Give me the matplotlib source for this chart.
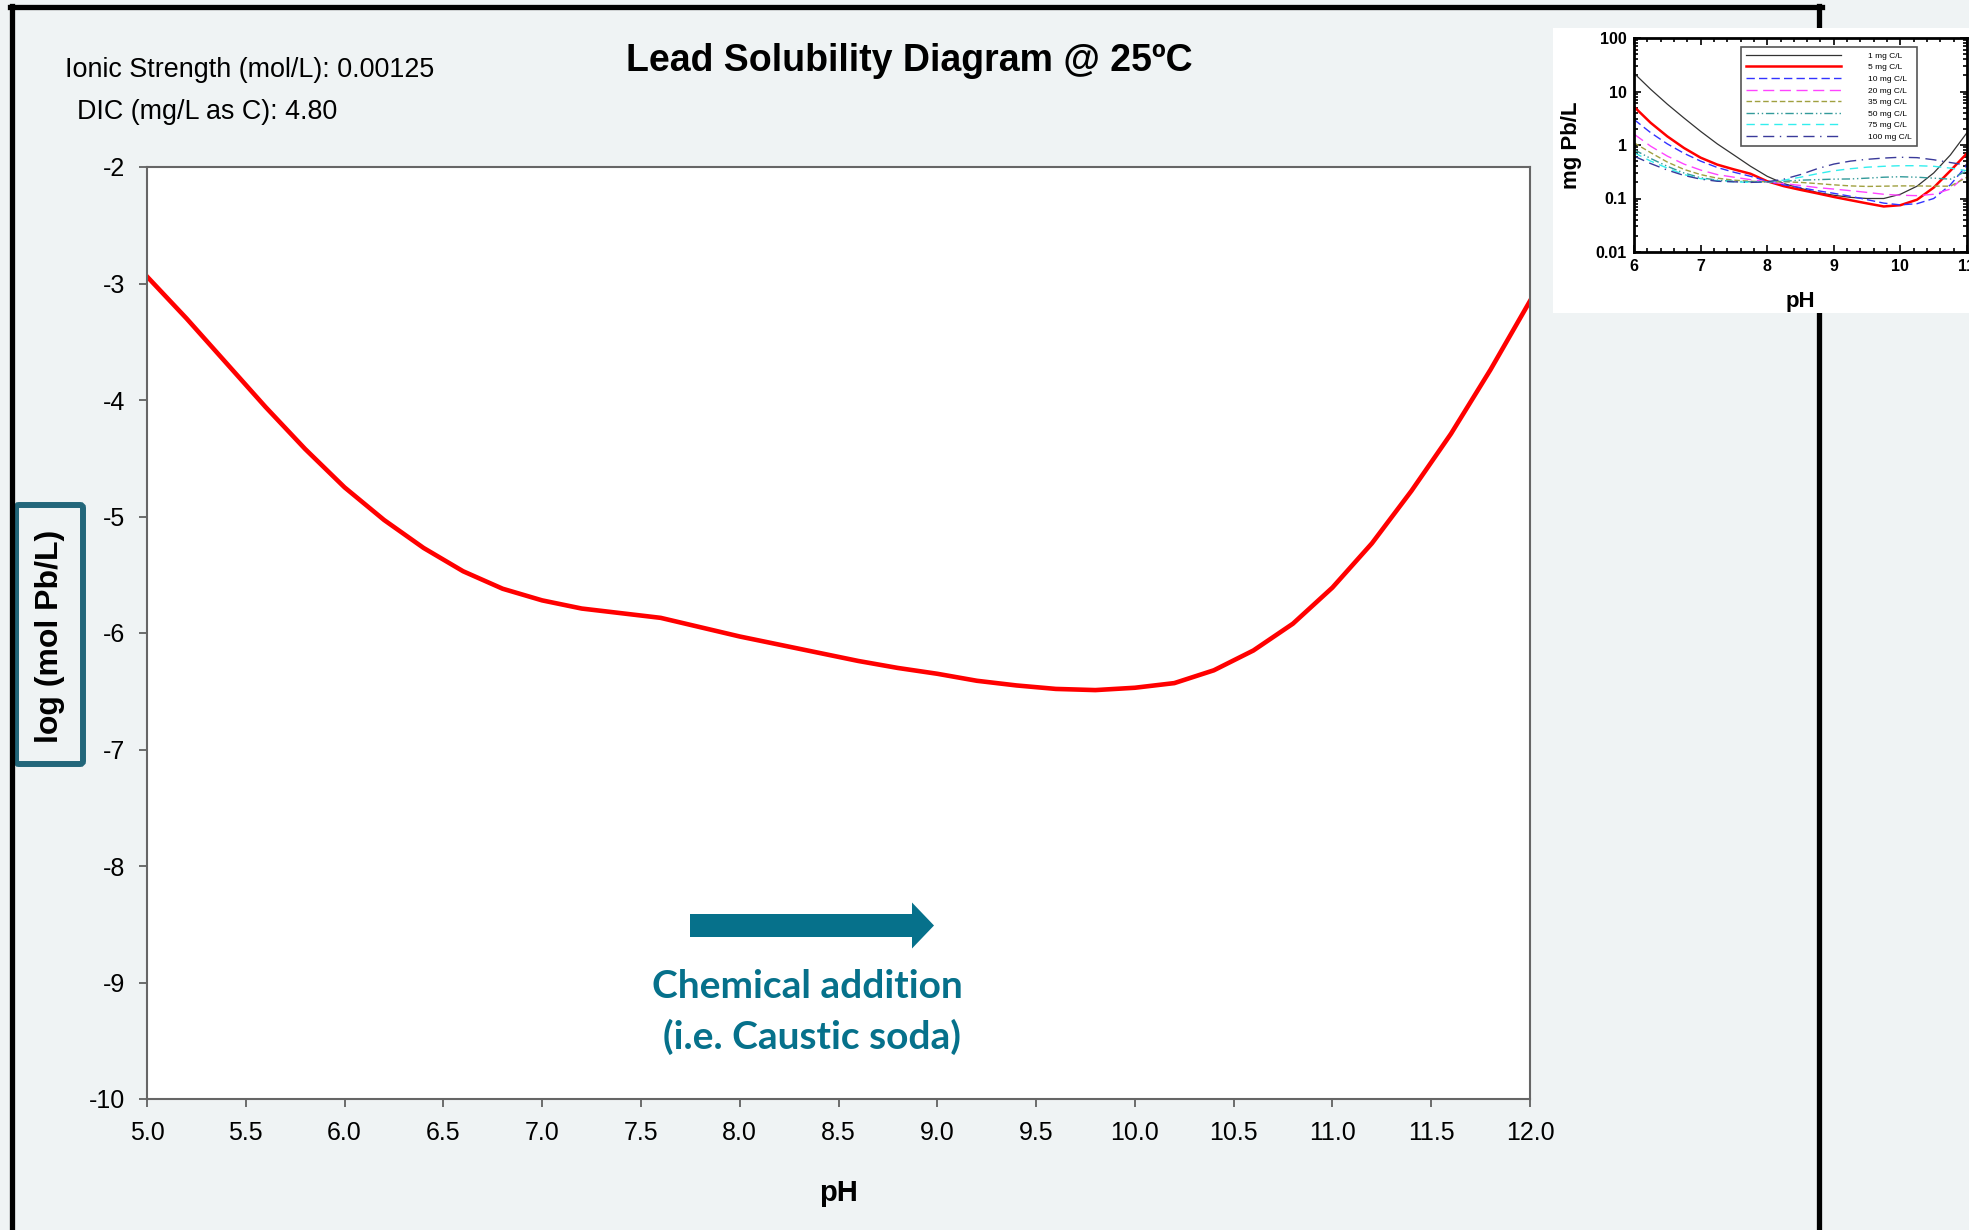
import matplotlib
matplotlib.use("Agg")
import matplotlib.pyplot as plt
import matplotlib.patches as mpatches
from matplotlib.lines import Line2D
from matplotlib.transforms import IdentityTransform
from matplotlib.ticker import FixedLocator, MultipleLocator, NullFormatter

plt.rcParams['font.family'] = ['Liberation Sans', 'DejaVu Sans']
plt.rcParams['axes.unicode_minus'] = False

# main curve: log(mol Pb/L) vs pH, DIC 4.80 mg C/L
ph = [5.0, 5.2, 5.4, 5.6, 5.8, 6.0, 6.2, 6.4, 6.6, 6.8, 7.0, 7.2, 7.4, 7.6,
      7.8, 8.0, 8.2, 8.4, 8.6, 8.8, 9.0, 9.2, 9.4, 9.6, 9.8, 10.0, 10.2,
      10.4, 10.6, 10.8, 11.0, 11.2, 11.4, 11.6, 11.8, 12.0]
log_pb = [-2.94, -3.30, -3.68, -4.06, -4.42, -4.75, -5.03, -5.27, -5.47,
          -5.62, -5.72, -5.79, -5.83, -5.87, -5.95, -6.03, -6.10, -6.17,
          -6.24, -6.30, -6.35, -6.41, -6.45, -6.48, -6.49, -6.47, -6.43,
          -6.32, -6.15, -5.92, -5.61, -5.23, -4.78, -4.29, -3.74, -3.15]

x_ticks = [5.0, 5.5, 6.0, 6.5, 7.0, 7.5, 8.0, 8.5, 9.0, 9.5, 10.0, 10.5,
           11.0, 11.5, 12.0]
y_ticks = [-2, -3, -4, -5, -6, -7, -8, -9, -10]

# inset: mg Pb/L vs pH for several DIC levels
inset_ph = [6.0, 6.25, 6.5, 6.75, 7.0, 7.25, 7.5, 7.75, 8.0, 8.25, 8.5,
            8.75, 9.0, 9.25, 9.5, 9.75, 10.0, 10.25, 10.5, 10.75, 11.0]
dic_labels = ["1 mg C/L", "5 mg C/L", "10 mg C/L", "20 mg C/L",
              "35 mg C/L", "50 mg C/L", "75 mg C/L", "100 mg C/L"]
pb_1 = [22, 11, 5.8, 3.2, 1.8, 1.05, 0.65, 0.40, 0.26, 0.19, 0.155, 0.13,
        0.115, 0.105, 0.10, 0.10, 0.12, 0.17, 0.30, 0.65, 1.7]
pb_5 = [5.2, 2.6, 1.45, 0.88, 0.58, 0.43, 0.35, 0.29, 0.21, 0.17, 0.145,
        0.125, 0.107, 0.093, 0.081, 0.071, 0.075, 0.095, 0.16, 0.33, 0.7]
pb_10 = [3.0, 1.7, 1.05, 0.70, 0.50, 0.38, 0.31, 0.26, 0.21, 0.18, 0.16,
         0.14, 0.125, 0.11, 0.095, 0.082, 0.076, 0.08, 0.10, 0.18, 0.42]
pb_20 = [1.6, 0.95, 0.62, 0.44, 0.34, 0.28, 0.25, 0.225, 0.205, 0.19, 0.175,
         0.16, 0.15, 0.14, 0.13, 0.12, 0.115, 0.113, 0.12, 0.15, 0.28]
pb_35 = [1.1, 0.72, 0.48, 0.35, 0.28, 0.24, 0.22, 0.21, 0.205, 0.205, 0.20,
         0.19, 0.18, 0.172, 0.168, 0.17, 0.172, 0.172, 0.17, 0.17, 0.25]
pb_50 = [0.82, 0.56, 0.40, 0.30, 0.245, 0.22, 0.21, 0.205, 0.205, 0.21,
         0.22, 0.225, 0.23, 0.232, 0.24, 0.25, 0.255, 0.25, 0.24, 0.23, 0.33]
pb_75 = [0.72, 0.50, 0.37, 0.28, 0.235, 0.215, 0.205, 0.20, 0.205, 0.22,
         0.25, 0.29, 0.33, 0.36, 0.385, 0.40, 0.41, 0.41, 0.40, 0.37, 0.33]
pb_100 = [0.62, 0.45, 0.34, 0.27, 0.23, 0.21, 0.205, 0.20, 0.205, 0.23,
          0.28, 0.36, 0.44, 0.50, 0.54, 0.57, 0.59, 0.58, 0.53, 0.47, 0.42]
inset_series = [pb_1, pb_5, pb_10, pb_20, pb_35, pb_50, pb_75, pb_100]
inset_colors = ['#333333', '#ff0000', '#3333ff', '#ff44ff', '#a0a040',
                '#339a9a', '#33eeee', '#3a3a9a']
inset_widths = [0.9, 1.8, 1.0, 1.0, 1.0, 1.0, 1.0, 1.0]
inset_styles = ['-', '-', (0, (6, 3)), (0, (8, 4)), (0, (4, 2)),
                (0, (6, 2, 1, 2, 1, 2)), (0, (6, 4)), (0, (8, 4, 8, 4, 1, 4))]

W, H = 1969, 1230
BG = '#eff3f4'
TEAL = '#06718b'

fig = plt.figure(figsize=(W / 100, H / 100), dpi=100, facecolor=BG)


def fx(px):
    return px / W


def fy(py):
    return 1 - py / H


# outer black frame
for xs, ys in [([12, 12], [6, H]), ([10, 1822], [7, 7]), ([1819, 1819], [6, H])]:
    fig.add_artist(Line2D([fx(x) for x in xs], [fy(y) for y in ys],
                          color='black', lw=3.8, transform=fig.transFigure))

# main axes
ax = fig.add_axes([fx(147), fy(1099), fx(1530) - fx(147), fy(167) - fy(1099)])
ax.set_facecolor('white')
ax.plot(ph, log_pb, color='#ff0000', lw=3.3)
ax.set_xlim(5.0, 12.0)
ax.set_ylim(-10, -2)
ax.set_xticks(x_ticks)
ax.set_xticklabels([f"{t:.1f}" for t in x_ticks])
ax.set_yticks(y_ticks)
ax.set_yticklabels([str(t) for t in y_ticks])
ax.tick_params(direction='out', length=6, width=1.2, colors='#555555',
               labelcolor='black', labelsize=18)
ax.tick_params(axis='y', pad=10)
ax.tick_params(axis='x', pad=10)
for s in ax.spines.values():
    s.set_color('#666666')
    s.set_linewidth(1.5)
ax.set_xlabel("pH", fontsize=21, fontweight='bold', labelpad=24)

fig.text(fx(909), fy(61), "Lead Solubility Diagram @ 25ºC", ha='center',
         va='center', fontsize=27, fontweight='bold')
fig.text(fx(65), fy(70), "Ionic Strength (mol/L): 0.00125", ha='left',
         va='center', fontsize=19.4)
fig.text(fx(77), fy(112), "DIC (mg/L as C): 4.80", ha='left', va='center',
         fontsize=19.4)

# boxed y label
fig.add_artist(mpatches.FancyBboxPatch(
    (16, H - 764), 67, 259, boxstyle="round,pad=0,rounding_size=3",
    transform=IdentityTransform(), fill=False, ec='#22667a', lw=4.3))
fig.text(fx(50), fy(636), "log (mol Pb/L)", rotation=90, ha='center',
         va='center', fontsize=23, fontweight='bold')

# chemical addition arrow
fig.add_artist(mpatches.FancyArrow(
    690, H - 925.5, 244, 0, width=23, head_width=46, head_length=22,
    length_includes_head=True, transform=IdentityTransform(), color=TEAL, lw=0))
fig.text(fx(807), fy(986), "Chemical addition", ha='center', va='center',
         fontsize=28, fontweight='bold', color=TEAL, family=['Lato', 'DejaVu Sans'])
fig.text(fx(812), fy(1037), "(i.e. Caustic soda)", ha='center', va='center',
         fontsize=28, fontweight='bold', color=TEAL, family=['Lato', 'DejaVu Sans'])

# inset picture
fig.add_artist(mpatches.Rectangle((fx(1553), fy(313)), fx(1969) - fx(1553),
                                  fy(28) - fy(313), transform=fig.transFigure,
                                  facecolor='white', edgecolor='none', zorder=3))
ax_in = fig.add_axes([fx(1634), fy(252), fx(1967) - fx(1634), fy(38) - fy(252)],
                     zorder=4)
for vals, lab, c, lw, ls in zip(inset_series, dic_labels, inset_colors,
                                inset_widths, inset_styles):
    ax_in.plot(inset_ph, vals, color=c, lw=lw, ls=ls, label=lab)
ax_in.set_yscale('log')
ax_in.set_xlim(6, 11)
ax_in.set_ylim(0.01, 100)
ax_in.xaxis.set_major_locator(MultipleLocator(1))
ax_in.xaxis.set_minor_locator(MultipleLocator(0.2))
ax_in.yaxis.set_major_locator(FixedLocator([0.01, 0.1, 1, 10, 100]))
ax_in.set_yticklabels(["0.01", "0.1", "1", "10", "100"])
ax_in.set_xticks([6, 7, 8, 9, 10, 11])
ax_in.set_xticklabels(["6", "7", "8", "9", "10", "11"])
ax_in.yaxis.set_minor_formatter(NullFormatter())
ax_in.tick_params(which='both', direction='in', top=True, right=True,
                  width=1.2, labelsize=11.5, pad=5)
ax_in.tick_params(which='major', length=5)
ax_in.tick_params(which='minor', length=3)
for lab in ax_in.get_xticklabels() + ax_in.get_yticklabels():
    lab.set_fontweight('bold')
for s in ax_in.spines.values():
    s.set_linewidth(2)
ax_in.set_xlabel("pH", fontsize=16, fontweight='bold', labelpad=12)
ax_in.set_ylabel("mg Pb/L", fontsize=16, fontweight='bold', labelpad=10)
leg = ax_in.legend(loc='upper left', bbox_to_anchor=(0.32, 0.958),
                   fontsize=6, handlelength=11.5, handletextpad=3.2,
                   labelspacing=0.45, borderaxespad=0, borderpad=0.6,
                   fancybox=False, framealpha=1, edgecolor='#555555')
leg.get_frame().set_linewidth(1.2)

fig.savefig("out.png", dpi=100, facecolor=BG)
